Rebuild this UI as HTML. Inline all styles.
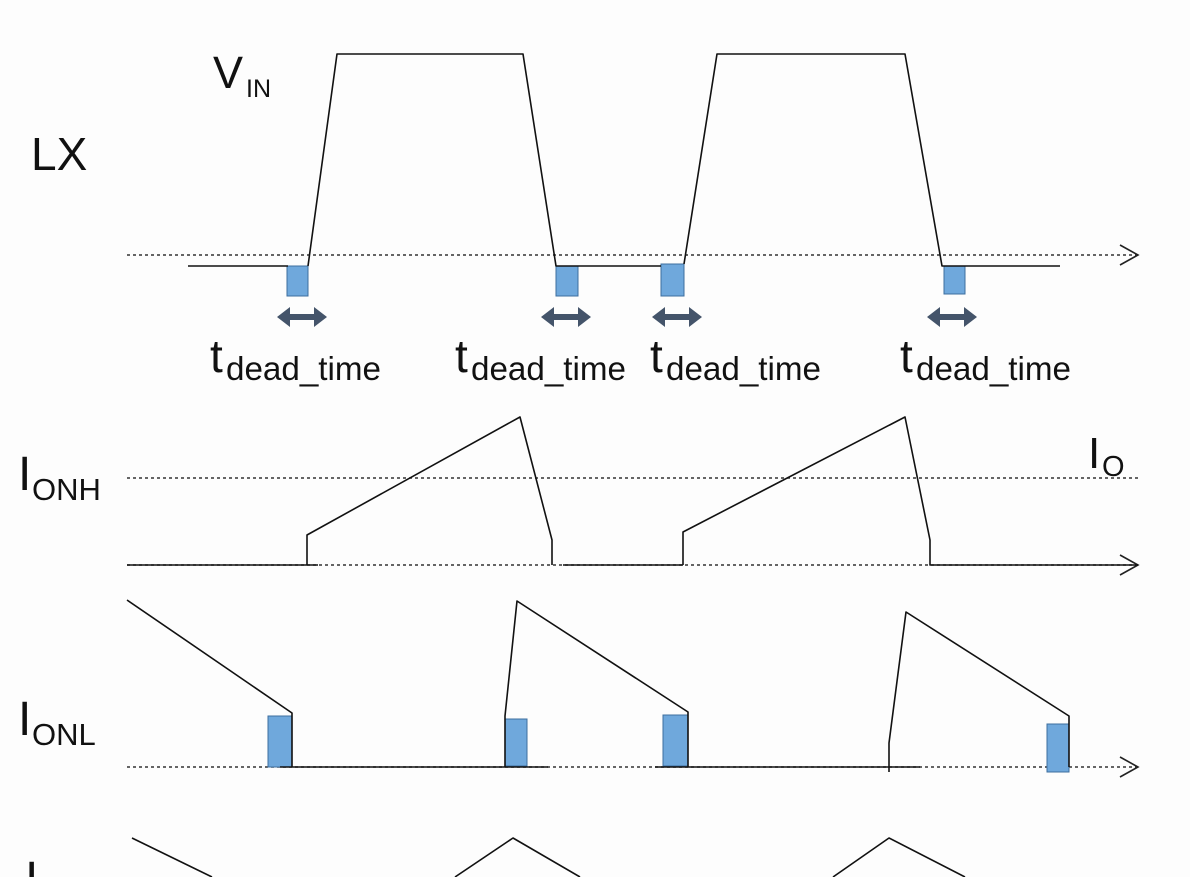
<!DOCTYPE html>
<html><head><meta charset="utf-8"><style>
html,body{margin:0;padding:0;background:#fdfdfd;width:1190px;height:877px;overflow:hidden;}
svg{display:block;}
text{font-family:"Liberation Sans",Arial,sans-serif;fill:#111;}
</style></head><body>
<svg width="1190" height="877" viewBox="0 0 1190 877" xmlns="http://www.w3.org/2000/svg">
<defs>
<g id="dbl"><polygon points="-25,0 -12,-10 -12,-3 12,-3 12,-10 25,0 12,10 12,3 -12,3 -12,10" fill="#44546a"/></g>
</defs>
<g stroke="#333" stroke-width="1.6" stroke-dasharray="3,3" fill="none">
<line x1="127" y1="255" x2="1138" y2="255"/>
<line x1="127" y1="478" x2="1138" y2="478"/>
<line x1="127" y1="565" x2="1138" y2="565"/>
<line x1="127" y1="767" x2="1138" y2="767"/>
</g>
<g stroke="#222" stroke-width="1.6" fill="none">
<polyline points="1120,245 1138,255 1120,265"/>
<polyline points="1120,555 1138,565 1120,575"/>
<polyline points="1120,757 1138,767 1120,777"/>
</g>
<g fill="#6fa8dc" stroke="#3d6e9e" stroke-width="1">
<rect x="287" y="266" width="21" height="30"/>
<rect x="556" y="266" width="22" height="30"/>
<rect x="661" y="264" width="23" height="32"/>
<rect x="944" y="266" width="21" height="28"/>
<rect x="268" y="716" width="24" height="51"/>
<rect x="505" y="719" width="22" height="47"/>
<rect x="663" y="715" width="25" height="51"/>
<rect x="1047" y="724" width="22" height="48"/>
</g>
<g stroke="#111" stroke-width="1.6" fill="none" stroke-linejoin="round">
<polyline points="188,266 288,266"/>
<polyline points="308,266 337,54 523,54 556,266 661,266"/>
<polyline points="684,264 717,54 905,54 942,266 1060,266"/>
<polyline points="127,565 318,565"/>
<polyline points="307,565 307,535 520,417 552,540 552,565"/>
<polyline points="563,565 683,565"/>
<polyline points="683,565 683,532 905,417 930,540 930,565 1138,565"/>
<polyline points="127,600 292,713 292,767"/>
<polyline points="280,767 548,767"/>
<polyline points="505,767 505,716 517,601 688,712 688,767"/>
<polyline points="655,767 920,767"/>
<polyline points="889,772 889,743 906,612 1069,716 1069,767"/>
<polyline points="132,838 212,877"/>
<polyline points="455,877 513,838 580,877"/>
<polyline points="833,877 889,838 965,877"/>
</g>
<use href="#dbl" x="302" y="317"/>
<use href="#dbl" x="566" y="317"/>
<use href="#dbl" x="677" y="317"/>
<use href="#dbl" x="952" y="317"/>
<text x="213" y="88" font-size="45">V</text>
<text x="246" y="97" font-size="25">IN</text>
<text x="31" y="170" font-size="46">LX</text>
<g font-size="46">
<text x="210" y="372">t</text>
<text x="455" y="372">t</text>
<text x="650" y="372">t</text>
<text x="900" y="372">t</text>
</g>
<g font-size="33">
<text x="226" y="380" textLength="155" lengthAdjust="spacingAndGlyphs">dead_time</text>
<text x="471" y="380" textLength="155" lengthAdjust="spacingAndGlyphs">dead_time</text>
<text x="666" y="380" textLength="155" lengthAdjust="spacingAndGlyphs">dead_time</text>
<text x="916" y="380" textLength="155" lengthAdjust="spacingAndGlyphs">dead_time</text>
</g>
<text x="18" y="490" font-size="48">I</text>
<text x="32" y="500" font-size="31">ONH</text>
<text x="1088" y="468" font-size="44">I</text>
<text x="1102" y="476" font-size="29">O</text>
<text x="18" y="735" font-size="48">I</text>
<text x="32" y="745" font-size="31">ONL</text>
<text x="25" y="895" font-size="48">I</text>
</svg>
</body></html>
